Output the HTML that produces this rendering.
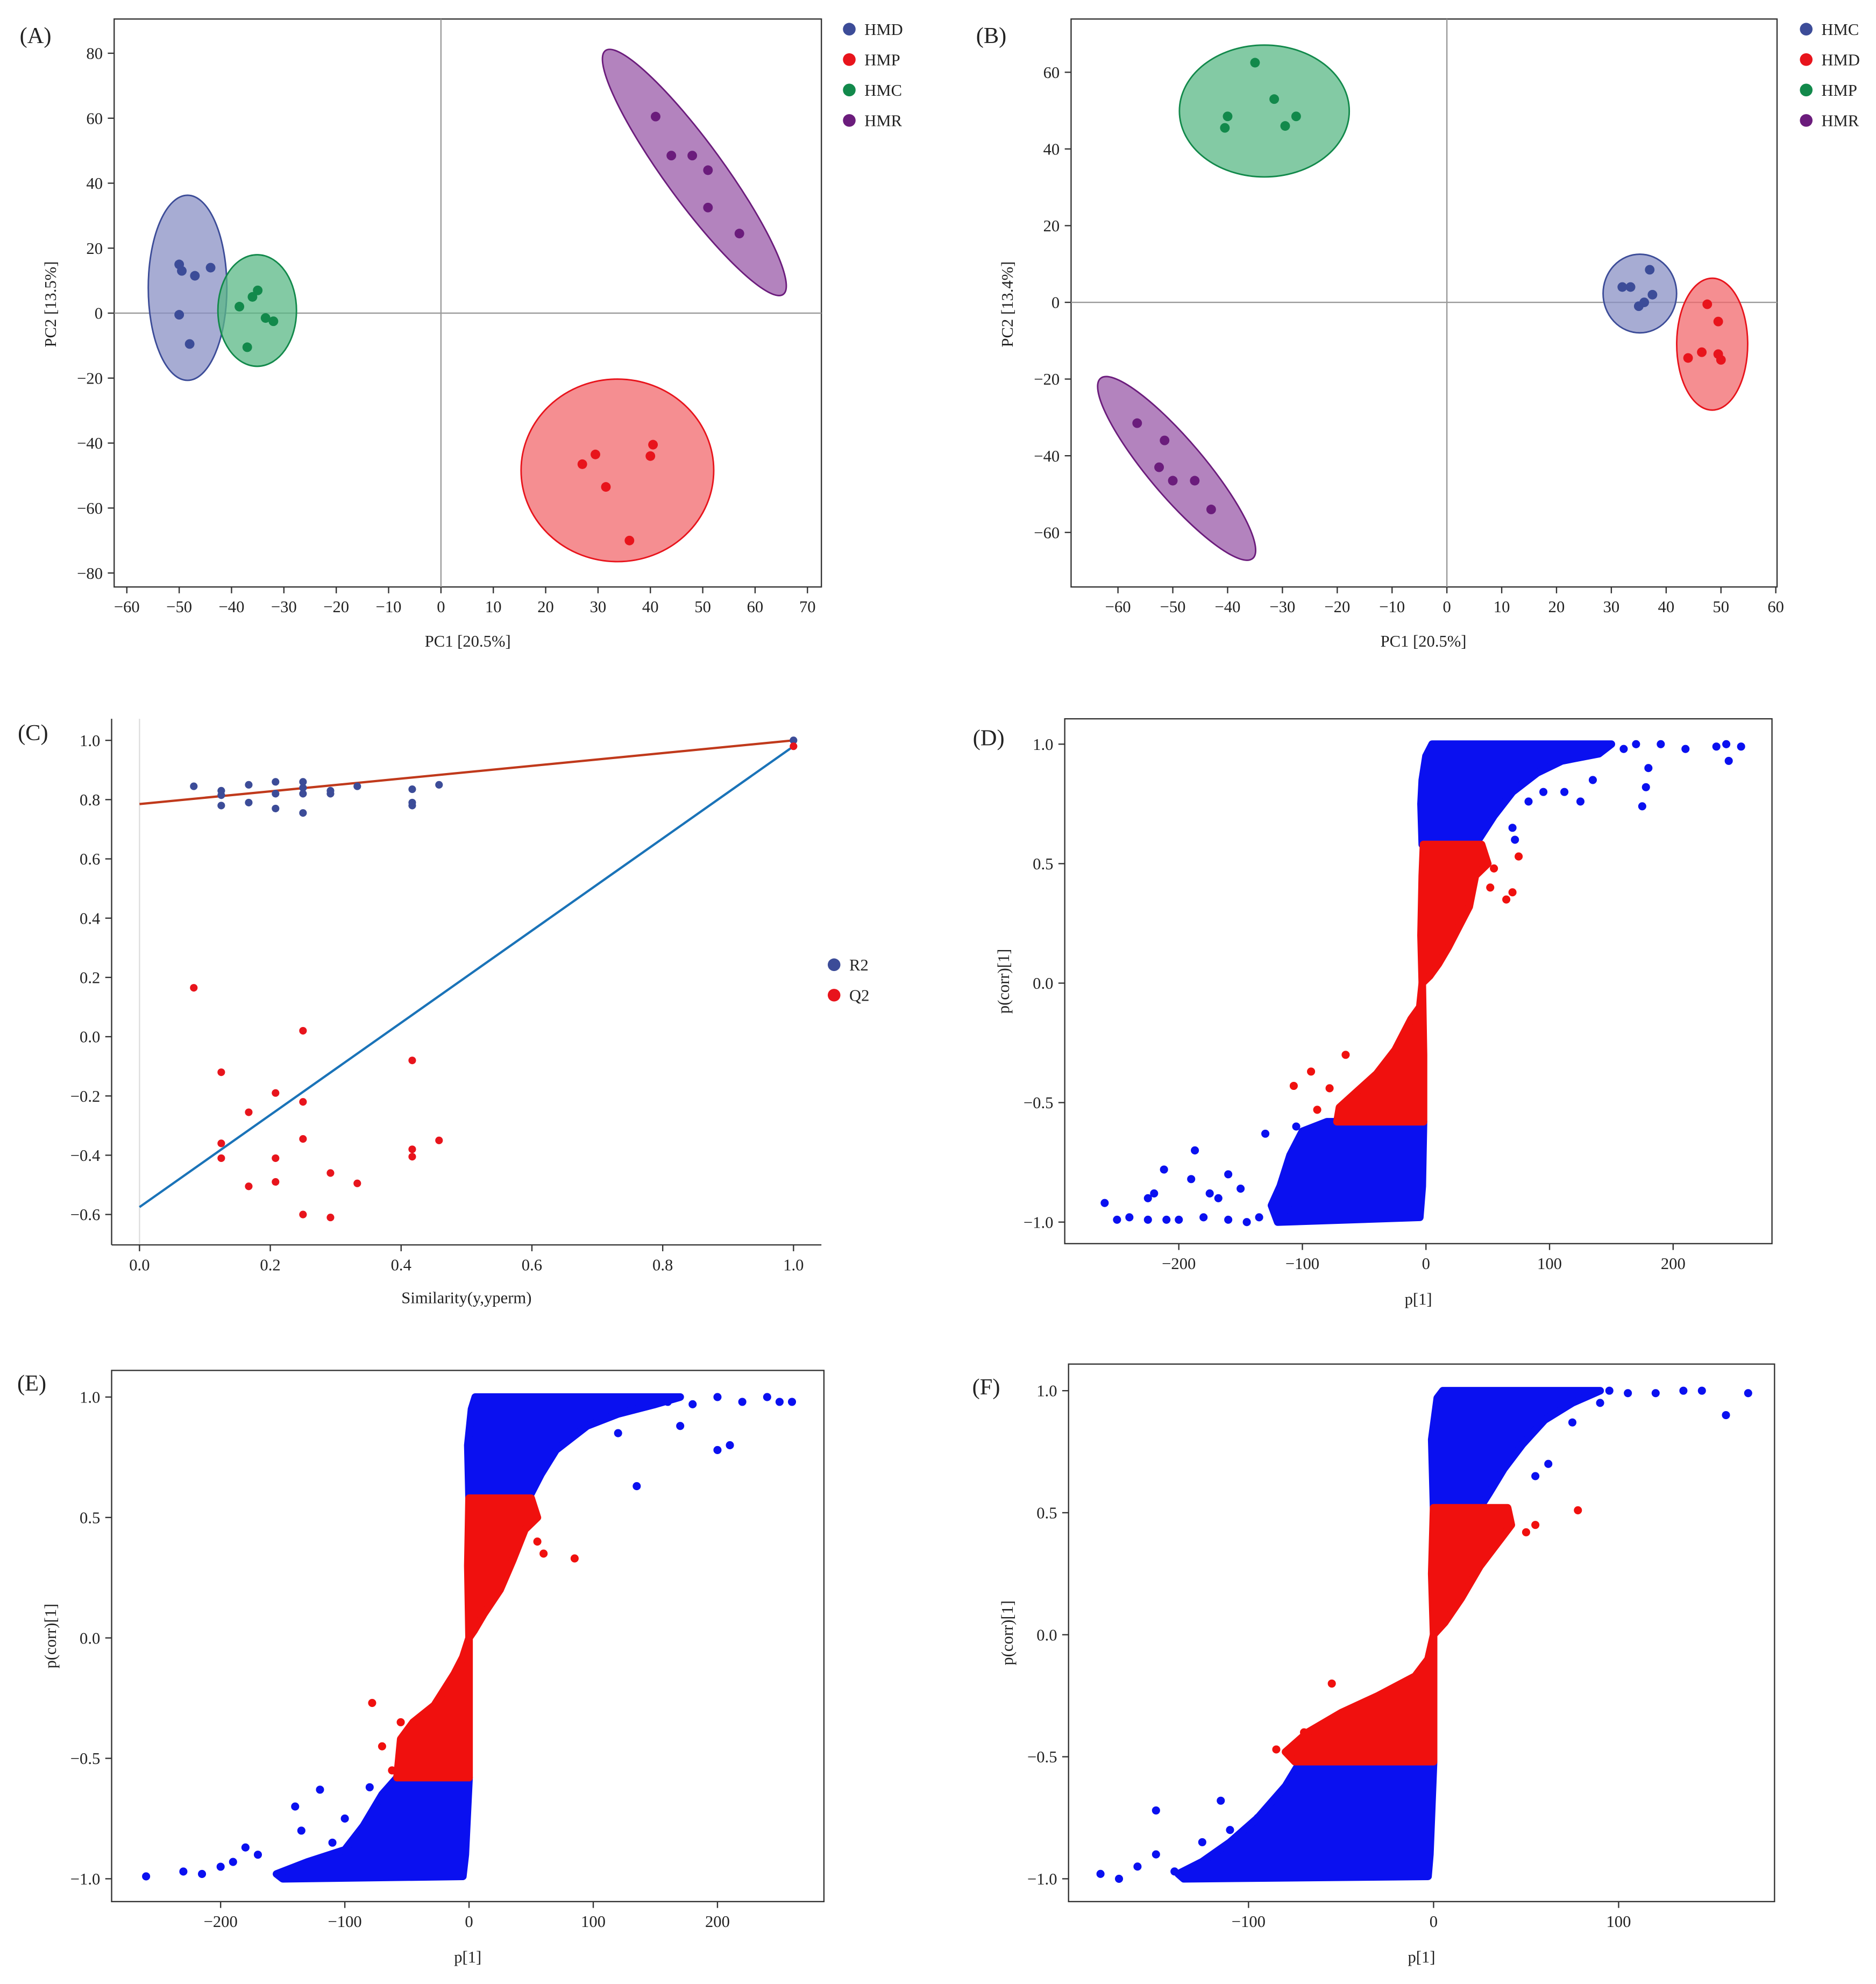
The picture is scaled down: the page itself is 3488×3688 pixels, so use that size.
<!DOCTYPE html>
<html><head><meta charset="utf-8"><style>
html,body{margin:0;padding:0;background:#fff}
svg{display:block}
text{font-family:"Liberation Serif",serif;fill:#222}
</style></head><body>
<svg id="root" width="3488" height="3688" viewBox="0 0 1480 1565" xmlns="http://www.w3.org/2000/svg"></svg>
<script>
// ---- Panel A data ----
const aHMD = [[-50,15],[-49.5,13],[-47,11.5],[-44,14],[-50,-0.5],[-48,-9.5]];
const aHMP = [[27,-46.5],[29.5,-43.5],[31.5,-53.5],[40.5,-40.5],[40,-44],[36,-70]];
const aHMC = [[-38.5,2],[-36,5],[-35,7],[-33.5,-1.5],[-32,-2.5],[-37,-10.5]];
const aHMR = [[41,60.5],[44,48.5],[48,48.5],[51,44],[51,32.5],[57,24.5]];
// confidence ellipses: center x, center y (data), semi-axes (px), rotation (deg)
const aEllHMD = [-48.4,7.8,31,73,0];
const aEllHMC = [-35.1,0.8,31,44,0];
const aEllHMR = [48.4,43.3,119,23,53.9];
const aEllHMP = [33.7,-48.4,76,72,0];
const aXTicks = [-60,-50,-40,-30,-20,-10,0,10,20,30,40,50,60,70];
const aYTicks = [-80,-60,-40,-20,0,20,40,60,80];
// ---- Panel B data ----
const bHMC = [[32,4],[33.5,4],[35,-1],[36,0],[37,8.5],[37.5,2]];
const bHMD = [[47.5,-0.5],[49.5,-5],[46.5,-13],[44,-14.5],[49.5,-13.5],[50,-15]];
const bHMP = [[-40,48.5],[-40.5,45.5],[-35,62.5],[-31.5,53],[-29.5,46],[-27.5,48.5]];
const bHMR = [[-56.5,-31.5],[-51.5,-36],[-52.5,-43],[-50,-46.5],[-46,-46.5],[-43,-54]];
const bEllHMC = [35.2,2.3,29,31,0];
const bEllHMD = [48.4,-10.9,28,52,0];
const bEllHMP = [-33.3,49.9,67,52,0];
const bEllHMR = [-49.3,-43.3,93,22,49.8];
const bXTicks = [-60,-50,-40,-30,-20,-10,0,10,20,30,40,50,60];
const bYTicks = [-60,-40,-20,0,20,40,60];
// ---- Panel C data ----
const cR2 = [[0.083,0.845],[0.125,0.83],[0.125,0.815],[0.125,0.78],[0.167,0.85],[0.167,0.79],[0.208,0.86],[0.208,0.82],[0.208,0.77],[0.25,0.86],[0.25,0.84],[0.25,0.82],[0.25,0.755],[0.292,0.83],[0.292,0.82],[0.333,0.845],[0.417,0.835],[0.417,0.79],[0.417,0.78],[0.458,0.85],[1,1]];
const cQ2 = [[0.083,0.165],[0.125,-0.12],[0.125,-0.36],[0.125,-0.41],[0.167,-0.255],[0.167,-0.505],[0.208,-0.19],[0.208,-0.41],[0.208,-0.49],[0.25,0.02],[0.25,-0.22],[0.25,-0.345],[0.25,-0.6],[0.292,-0.46],[0.292,-0.61],[0.333,-0.495],[0.417,-0.08],[0.417,-0.38],[0.417,-0.405],[0.458,-0.35],[1,0.98]];
const cR2Line = [0.785,1.0];
const cQ2Line = [-0.575,0.98];
const cXTicks = [0,0.2,0.4,0.6,0.8,1.0];
const cYTicks = [-0.6,-0.4,-0.2,0,0.2,0.4,0.6,0.8,1.0];
// ---- Panel D data (dense point clouds as envelopes + sparse points) ----
const dBlueTop = [[-3,0.58],[-4,0.75],[-3,0.85],[0,0.95],[5,1],[150,1],[140,0.96],[110,0.93],[90,0.88],[70,0.8],[55,0.7],[45,0.62],[40,0.58]];
const dRedTop = [[-3,0],[-4,0.2],[-3,0.45],[-2,0.58],[45,0.58],[50,0.5],[40,0.45],[35,0.32],[25,0.22],[18,0.15],[10,0.08],[3,0.03]];
const dRedBot = [[-3,0],[-5,-0.1],[-12,-0.15],[-25,-0.28],[-40,-0.38],[-55,-0.45],[-70,-0.52],[-72,-0.58],[-2,-0.58],[-2,-0.3]];
const dBlueBot = [[-2,-0.58],[-80,-0.58],[-100,-0.62],[-110,-0.72],[-118,-0.85],[-125,-0.93],[-120,-1],[-5,-0.98],[-3,-0.85]];
const dBluePts = [[160,0.98],[170,1],[190,1],[210,0.98],[235,0.99],[243,1],[245,0.93],[255,0.99],[175,0.74],[178,0.82],[180,0.9],[135,0.85],[125,0.76],[112,0.8],[95,0.8],[83,0.76],[70,0.65],[72,0.6],[-260,-0.92],[-250,-0.99],[-240,-0.98],[-225,-0.99],[-210,-0.99],[-200,-0.99],[-190,-0.82],[-187,-0.7],[-212,-0.78],[-225,-0.9],[-220,-0.88],[-175,-0.88],[-160,-0.8],[-150,-0.86],[-168,-0.9],[-180,-0.98],[-160,-0.99],[-145,-1],[-130,-0.63],[-135,-0.98],[-110,-0.95],[-105,-0.6]];
const dRedPts = [[75,0.53],[70,0.38],[65,0.35],[55,0.48],[52,0.4],[-107,-0.43],[-93,-0.37],[-78,-0.44],[-88,-0.53],[-65,-0.3]];
const dXTicks = [-200,-100,0,100,200];
const pcTicks = [-1.0,-0.5,0,0.5,1.0];
// ---- Panel E data ----
const eBlueTop = [[0,0.58],[-1,0.8],[2,0.95],[5,1],[170,1],[150,0.97],[120,0.93],[95,0.88],[70,0.78],[58,0.68],[50,0.6],[45,0.58]];
const eRedTop = [[0,0],[-1,0.3],[0,0.58],[50,0.58],[55,0.5],[45,0.45],[35,0.32],[25,0.2],[12,0.1],[4,0.03]];
const eRedBot = [[0,0],[-5,-0.08],[-12,-0.15],[-28,-0.28],[-45,-0.35],[-55,-0.42],[-58,-0.58],[0,-0.58]];
const eBlueBot = [[0,-0.58],[-58,-0.58],[-70,-0.65],[-85,-0.78],[-100,-0.88],[-130,-0.93],[-155,-0.98],[-150,-1],[-5,-0.99],[-3,-0.9]];
const eBluePts = [[160,0.98],[180,0.97],[200,1],[220,0.98],[240,1],[250,0.98],[260,0.98],[200,0.78],[210,0.8],[135,0.63],[170,0.88],[120,0.85],[-260,-0.99],[-230,-0.97],[-215,-0.98],[-200,-0.95],[-190,-0.93],[-180,-0.87],[-170,-0.9],[-140,-0.7],[-120,-0.63],[-135,-0.8],[-110,-0.85],[-100,-0.75],[-80,-0.62]];
const eRedPts = [[85,0.33],[60,0.35],[55,0.4],[-78,-0.27],[-70,-0.45],[-62,-0.55],[-55,-0.35]];
const eXTicks = [-200,-100,0,100,200];
// ---- Panel F data ----
const fBlueTop = [[0,0.52],[-1,0.8],[2,0.97],[5,1],[90,1],[75,0.95],[60,0.88],[48,0.78],[38,0.68],[30,0.58],[25,0.52]];
const fRedTop = [[0,0],[-1,0.25],[0,0.52],[40,0.52],[42,0.45],[35,0.38],[25,0.28],[15,0.15],[6,0.05]];
const fRedBot = [[0,0],[-3,-0.1],[-10,-0.17],[-30,-0.25],[-50,-0.32],[-68,-0.4],[-80,-0.48],[-75,-0.52],[0,-0.52]];
const fBlueBot = [[0,-0.52],[-72,-0.52],[-80,-0.62],[-95,-0.75],[-110,-0.85],[-125,-0.93],[-138,-0.98],[-135,-1],[-3,-0.99],[-2,-0.9]];
const fBluePts = [[95,1],[105,0.99],[120,0.99],[135,1],[145,1],[170,0.99],[158,0.9],[75,0.87],[62,0.7],[55,0.65],[90,0.95],[-180,-0.98],[-150,-0.72],[-115,-0.68],[-160,-0.95],[-150,-0.9],[-170,-1],[-140,-0.97],[-125,-0.85],[-110,-0.8],[-95,-0.75]];
const fRedPts = [[78,0.51],[50,0.42],[55,0.45],[-55,-0.2],[-85,-0.47],[-70,-0.4]];
const fXTicks = [-100,0,100];

const NS="http://www.w3.org/2000/svg";
const root=document.getElementById('root');
function mk(tag,attrs,parent,txt){const e=document.createElementNS(NS,tag);for(const k in attrs)e.setAttribute(k,attrs[k]);if(txt!==undefined)e.textContent=txt;(parent||root).appendChild(e);return e;}
function lin(d0,d1,p0,p1){return v=>p0+(v-d0)*(p1-p0)/(d1-d0);}

function frame(g,x0,y0,x1,y1,full){
  if(full){const r=mk('rect',{x:x0,y:y0,width:x1-x0,height:y1-y0,fill:'none',stroke:'#333','stroke-width':1},g);}
  else{const l1=mk('line',{x1:x0,y1:y0,x2:x0,y2:y1,stroke:'#333'},g);
  const l2=mk('line',{x1:x0,y1:y1,x2:x1,y2:y1,stroke:'#333'},g);}
}
function xticks(g,ticks,sx,y,fmt){ticks.forEach(t=>{mk('line',{x1:sx(t),x2:sx(t),y1:y,y2:y+5,stroke:'#333'},g);const tx=mk('text',{x:sx(t),y:y+20,'text-anchor':'middle','font-size':13},g,fmt(t));});}
function yticks(g,ticks,sy,x,fmt){ticks.forEach(t=>{mk('line',{x1:x-5,x2:x,y1:sy(t),y2:sy(t),stroke:'#333'},g);const tx=mk('text',{x:x-9,y:sy(t)+4.5,'text-anchor':'end','font-size':13},g,fmt(t));});}
function minus(t){return String(t).replace('-','\u2212');}
function f1(t){return minus((+t).toFixed(1)).replace('\u22120.0','0.0');}
function label(g,txt,x,y,rot,name,size){const a={x:x,y:y,'text-anchor':'middle','font-size':size||13};if(rot)a.transform='rotate(-90 '+x+' '+y+')';const t=mk('text',a,g,txt);}
function dots(g,pts,sx,sy,col,r,name){pts.forEach(p=>{const c=mk('circle',{cx:sx(p[0]),cy:sy(p[1]),r:r,fill:col},g);});}
function legend(g,x,y,items){items.forEach((it,i)=>{const c=mk('circle',{cx:x,cy:y+i*24,r:5,fill:it[1]},g);const t=mk('text',{x:x+12,y:y+i*24+4.5,'font-size':13},g,it[0]);});}
function ell(g,e,sx,sy,fill,stroke,name){const cx=sx(e[0]),cy=sy(e[1]);
  const el=mk('ellipse',{cx:cx,cy:cy,rx:e[2],ry:e[3],transform:'rotate('+e[4]+' '+cx+' '+cy+')',fill:fill,'fill-opacity':0.75,stroke:stroke,'stroke-width':1.2},g);
  }
function poly(g,pts,sx,sy,col,name){const p=mk('polygon',{points:pts.map(q=>sx(q[0])+','+sy(q[1])).join(' '),fill:col,stroke:col,'stroke-width':6,'stroke-linejoin':'round'},g);}

const BLUE='#3c4c98',RED='#e8141c',GREEN='#12894b',PURP='#6b1c7c';
const BF='#8a90c4',RF='#f2686c',GF='#5ab885',PF='#9a5aa8';

// Panel A
(function(){const g=mk('g',{});
const sx=lin(-60,70,100,637),sy=lin(80,-80,42,452);
frame(g,90,15,648,463,true);
mk('line',{x1:sx(0),x2:sx(0),y1:15,y2:463,stroke:'#999'},g);mk('line',{x1:90,x2:648,y1:sy(0),y2:sy(0),stroke:'#999'},g);
ell(g,aEllHMD,sx,sy,BF,BLUE,'ellipse-hmd');ell(g,aEllHMC,sx,sy,GF,GREEN,'ellipse-hmc');
ell(g,aEllHMR,sx,sy,PF,PURP,'ellipse-hmr');ell(g,aEllHMP,sx,sy,RF,RED,'ellipse-hmp');
dots(g,aHMD,sx,sy,BLUE,3.8,'point-hmd');dots(g,aHMC,sx,sy,GREEN,3.8,'point-hmc');dots(g,aHMR,sx,sy,PURP,3.8,'point-hmr');dots(g,aHMP,sx,sy,RED,3.8,'point-hmp');
xticks(g,aXTicks,sx,463,minus);yticks(g,aYTicks,sy,90,minus);
label(g,'PC1 [20.5%]',369,510,false,'x-axis-title');label(g,'PC2 [13.5%]',44,240,true,'y-axis-title');
label(g,'(A)',28,34,false,'panel-label',18);
legend(g,670,23,[['HMD',BLUE],['HMP',RED],['HMC',GREEN],['HMR',PURP]]);})();

// Panel B
(function(){const g=mk('g',{});
const sx=lin(-60,60,882,1401),sy=lin(60,-60,57,420);
frame(g,845,15,1402,463,true);
mk('line',{x1:sx(0),x2:sx(0),y1:15,y2:463,stroke:'#999'},g);mk('line',{x1:845,x2:1402,y1:sy(0),y2:sy(0),stroke:'#999'},g);
ell(g,bEllHMC,sx,sy,BF,BLUE,'ellipse-hmc');ell(g,bEllHMD,sx,sy,RF,RED,'ellipse-hmd');
ell(g,bEllHMP,sx,sy,GF,GREEN,'ellipse-hmp');ell(g,bEllHMR,sx,sy,PF,PURP,'ellipse-hmr');
dots(g,bHMC,sx,sy,BLUE,3.8,'point-hmc');dots(g,bHMD,sx,sy,RED,3.8,'point-hmd');dots(g,bHMP,sx,sy,GREEN,3.8,'point-hmp');dots(g,bHMR,sx,sy,PURP,3.8,'point-hmr');
xticks(g,bXTicks,sx,463,minus);yticks(g,bYTicks,sy,845,minus);
label(g,'PC1 [20.5%]',1123,510,false,'x-axis-title');label(g,'PC2 [13.4%]',799,240,true,'y-axis-title');
label(g,'(B)',782,34,false,'panel-label',18);
legend(g,1425,23,[['HMC',BLUE],['HMD',RED],['HMP',GREEN],['HMR',PURP]]);})();

// Panel C
(function(){const g=mk('g',{});
const sx=lin(0,1,110,626),sy=lin(1,-0.6,584,958);
mk('line',{x1:sx(0),x2:sx(0),y1:567,y2:982,stroke:'#ddd'},g);
frame(g,88,567,648,982,false);
const r=mk('line',{x1:sx(0),y1:sy(cR2Line[0]),x2:sx(1),y2:sy(cR2Line[1]),stroke:'#c0391b','stroke-width':1.8},g);
const q=mk('line',{x1:sx(0),y1:sy(cQ2Line[0]),x2:sx(1),y2:sy(cQ2Line[1]),stroke:'#1a73b8','stroke-width':1.8},g);
dots(g,cR2,sx,sy,BLUE,3,'point-r2');dots(g,cQ2,sx,sy,RED,3,'point-q2');
xticks(g,cXTicks,sx,982,f1);yticks(g,cYTicks,sy,88,f1);
label(g,'Similarity(y,yperm)',368,1028,false,'x-axis-title');
label(g,'(C)',26,584,false,'panel-label',18);
legend(g,658,761,[['R2',BLUE],['Q2',RED]]);})();

function pcorrPanel(name,letter,box,sx,sy,xt,bt,rt,rb,bb,bp,rp,lx,ly){
  const g=mk('g',{});
  frame(g,box[0],box[1],box[2],box[3],true);
  poly(g,bt,sx,sy,'#0a10f0','blue-region-top');poly(g,bb,sx,sy,'#0a10f0','blue-region-bottom');
  poly(g,rt,sx,sy,'#f0100e','red-region-top');poly(g,rb,sx,sy,'#f0100e','red-region-bottom');
  dots(g,bp,sx,sy,'#0a10f0',3.2,'point-significant');dots(g,rp,sx,sy,'#f0100e',3.2,'point-nonsignificant');
  xticks(g,xt,sx,box[3],minus);yticks(g,pcTicks,sy,box[0],f1);
  label(g,'p[1]',(box[0]+box[2])/2,box[3]+48,false,'x-axis-title');
  label(g,'p(corr)[1]',box[0]-44,(box[1]+box[3])/2,true,'y-axis-title');
  label(g,letter,lx,ly,false,'panel-label',18);
}
pcorrPanel('panel-d','(D)',[840,567,1398,981],lin(0,200,1125,1320),lin(1,-1,587,964),dXTicks,dBlueTop,dRedTop,dRedBot,dBlueBot,dBluePts,dRedPts,780,588);
pcorrPanel('panel-e','(E)',[88,1081,650,1500],lin(0,200,370,566),lin(1,-1,1102,1482),eXTicks,eBlueTop,eRedTop,eRedBot,eBlueBot,eBluePts,eRedPts,25,1097);
pcorrPanel('panel-f','(F)',[843,1076,1400,1500],lin(0,100,1131,1277),lin(1,-1,1097,1482),fXTicks,fBlueTop,fRedTop,fRedBot,fBlueBot,fBluePts,fRedPts,778,1100);
</script>
</body></html>
